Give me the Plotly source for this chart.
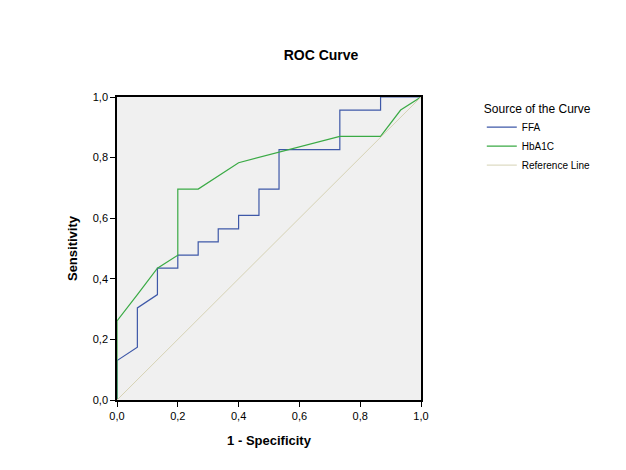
import plotly.graph_objects as go

# FFA ROC points (1 - specificity, sensitivity)
ffa_x = [0, 0, 0.067, 0.067, 0.133, 0.133, 0.2, 0.2, 0.267, 0.267, 0.333, 0.333,
         0.4, 0.4, 0.467, 0.467, 0.533, 0.533, 0.733, 0.733, 0.867, 0.867, 1.0]
ffa_y = [0, 0.130, 0.174, 0.304, 0.348, 0.435, 0.435, 0.478, 0.478, 0.522, 0.522, 0.565,
         0.565, 0.609, 0.609, 0.696, 0.696, 0.826, 0.826, 0.957, 0.957, 1.0, 1.0]

# HbA1C ROC points
hba_x = [0, 0, 0.067, 0.133, 0.2, 0.2, 0.267, 0.4, 0.733, 0.867, 0.933, 1.0]
hba_y = [0, 0.261, 0.348, 0.435, 0.478, 0.696, 0.696, 0.783, 0.870, 0.870, 0.957, 1.0]

ref_x = [0, 1]
ref_y = [0, 1]

tick_vals = [0, 0.2, 0.4, 0.6, 0.8, 1.0]
tick_text = ["0,0", "0,2", "0,4", "0,6", "0,8", "1,0"]

FONT = "Arial, Liberation Sans, sans-serif"

fig = go.Figure()
fig.add_trace(go.Scatter(x=ffa_x, y=ffa_y, mode="lines", name="FFA",
                         line=dict(color="#3e58a8", width=1.2)))
fig.add_trace(go.Scatter(x=hba_x, y=hba_y, mode="lines", name="HbA1C",
                         line=dict(color="#3aaa45", width=1.2)))
fig.add_trace(go.Scatter(x=ref_x, y=ref_y, mode="lines", name="Reference Line",
                         line=dict(color="#d6d2b4", width=1)))

axis_common = dict(
    range=[0, 1], tickvals=tick_vals, ticktext=tick_text,
    ticks="outside", ticklen=5, tickcolor="black", tickwidth=1,
    showline=True, linecolor="black", linewidth=1.5, mirror=True,
    showgrid=False, zeroline=False,
    tickfont=dict(family=FONT, size=11, color="black"),
)

fig.update_layout(
    width=626, height=470,
    margin=dict(l=109, r=213, t=89, b=78),
    paper_bgcolor="white", plot_bgcolor="#f0f0f0",
    title=dict(text="<b>ROC Curve</b>", x=0.5, xanchor="center",
               y=1 - 47 / 470, yanchor="middle",
               font=dict(family=FONT, size=14, color="black")),
    xaxis=dict(axis_common, title=dict(text="<b>1 - Specificity</b>", standoff=15,
                                       font=dict(family=FONT, size=13, color="black"))),
    yaxis=dict(axis_common, title=dict(text="<b>Sensitivity</b>", standoff=12,
                                       font=dict(family=FONT, size=13, color="black"))),
    legend=dict(x=1.20, xanchor="left", y=1.0, yanchor="top",
                title=dict(text="Source of the Curve", font=dict(family=FONT, size=12, color="black")),
                font=dict(family=FONT, size=10, color="black"),
                bgcolor="rgba(0,0,0,0)", tracegroupgap=0, itemwidth=30),
    showlegend=True,
)

fig.write_html("out.html")
